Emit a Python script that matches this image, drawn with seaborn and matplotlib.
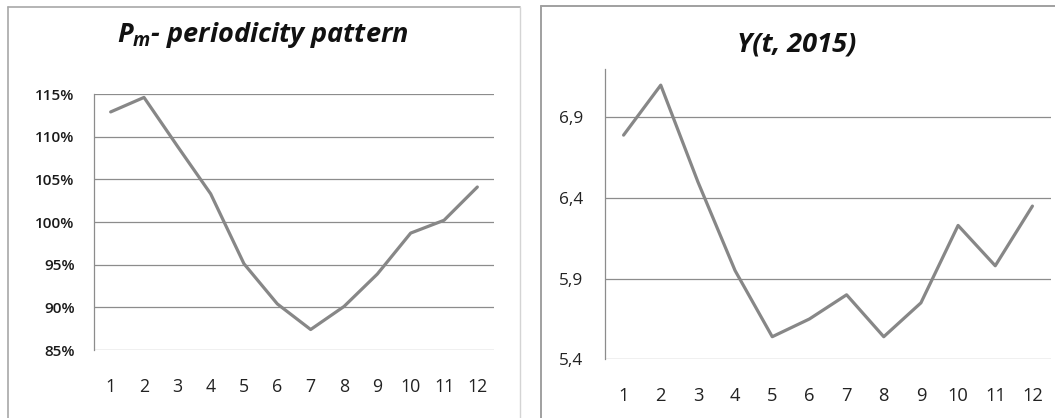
import numpy as np
import pandas as pd
import matplotlib
matplotlib.use("Agg")
import matplotlib.pyplot as plt
from matplotlib.lines import Line2D
from matplotlib.ticker import FuncFormatter
import seaborn as sns

# データ
months = list(range(1, 13))
pm_values = [112.9, 114.6, 108.9, 103.3, 95.1, 90.4, 87.4, 90.1, 93.9, 98.7, 100.2, 104.1]
y_values = [6.79, 7.10, 6.50, 5.95, 5.54, 5.65, 5.80, 5.54, 5.75, 6.23, 5.98, 6.35]
pm_ticks = [85, 90, 95, 100, 105, 110, 115]
y_ticks = [5.4, 5.9, 6.4, 6.9]

FONT = 'Open Sans'
sns.set_style("white")
plt.rcParams['font.family'] = [FONT, 'DejaVu Sans']
plt.rcParams['mathtext.fontset'] = 'custom'
plt.rcParams['mathtext.it'] = f'{FONT}:italic:bold'
plt.rcParams['mathtext.rm'] = f'{FONT}:bold'

W, H = 1055, 418
fig = plt.figure(figsize=(W / 100, H / 100), dpi=100)

def frac(x0, y0, x1, y1):
    return [x0 / W, 1 - y1 / H, (x1 - x0) / W, (y1 - y0) / H]

LINE = '#878787'
GRID = '#8c8c8c'

# 枠線
fig.add_artist(Line2D([8 / W, 8 / W], [0, 1 - 7 / H], color='#a8a8a8', lw=1.2))
fig.add_artist(Line2D([8 / W, 520 / W], [1 - 7 / H, 1 - 7 / H], color='#a8a8a8', lw=1.2))
fig.add_artist(Line2D([520 / W, 520 / W], [0, 1 - 7 / H], color='#d4d4d4', lw=1.0))
fig.add_artist(Line2D([541 / W, 541 / W], [0, 1 - 6 / H], color='#a0a0a0', lw=1.4))
fig.add_artist(Line2D([541 / W, 1 - 0.5 / W], [1 - 6 / H, 1 - 6 / H], color='#a0a0a0', lw=1.4))

# 左: Pm
df1 = pd.DataFrame({'month': months, 'value': pm_values})
ax1 = fig.add_axes(frac(94, 94, 494, 350))
sns.lineplot(data=df1, x='month', y='value', ax=ax1, color=LINE, lw=2.3)
ax1.set_xlim(0.5, 12.5)
ax1.set_ylim(85, 115)
ax1.set_yticks(pm_ticks)
ax1.yaxis.set_major_formatter(FuncFormatter(lambda v, p: f"{v:.0f}%"))
ax1.set_xticks(months)
for v in pm_ticks:
    ax1.axhline(v, color=GRID, lw=0.9, zorder=0)
for s in ['top', 'right', 'bottom']:
    ax1.spines[s].set_visible(False)
ax1.spines['left'].set_color(GRID)
ax1.spines['left'].set_linewidth(0.9)
ax1.tick_params(axis='y', length=0, pad=14, labelsize=11, labelcolor='#1a1a1a')
ax1.tick_params(axis='x', length=0, pad=20, labelsize=12.8, labelcolor='#222222')
for t in ax1.get_yticklabels():
    t.set_fontweight('semibold')
ax1.set_xlabel('')
ax1.set_ylabel('')
fig.text(263 / W, 1 - 35 / H, r'$P_m$- periodicity pattern', ha='center', va='center',
         fontsize=19.5, fontweight='bold', fontstyle='italic', color='#111111')

# 右: Y(t, 2015)
df2 = pd.DataFrame({'month': months, 'value': y_values})
ax2 = fig.add_axes(frac(605, 69, 1051, 359.3))
sns.lineplot(data=df2, x='month', y='value', ax=ax2, color=LINE, lw=2.3)
ax2.set_xlim(0.5, 12.5)
ax2.set_ylim(5.4, 7.2)
ax2.set_yticks(y_ticks)
ax2.yaxis.set_major_formatter(FuncFormatter(lambda v, p: f"{v:.1f}".replace('.', ',')))
ax2.set_xticks(months)
for v in y_ticks:
    ax2.axhline(v, color=GRID, lw=0.9, zorder=0)
for s in ['top', 'right', 'bottom']:
    ax2.spines[s].set_visible(False)
ax2.spines['left'].set_color(GRID)
ax2.spines['left'].set_linewidth(0.9)
ax2.tick_params(axis='y', length=0, pad=16, labelsize=12.4, labelcolor='#222222')
ax2.tick_params(axis='x', length=0, pad=20, labelsize=13.2, labelcolor='#222222')
ax2.set_xlabel('')
ax2.set_ylabel('')
fig.text(797 / W, 1 - 44 / H, 'Y(t, 2015)', ha='center', va='center',
         fontsize=19.5, fontweight='bold', fontstyle='italic', color='#111111')

fig.savefig('out.png', dpi=100)
